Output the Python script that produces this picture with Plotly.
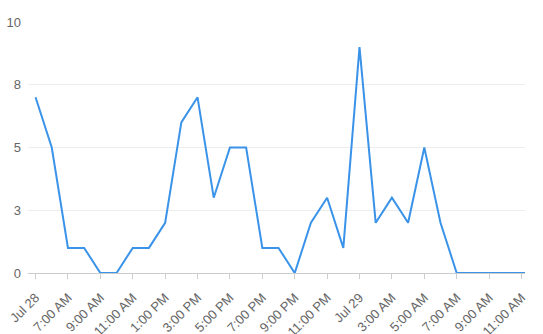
import plotly.graph_objects as go
import pandas as pd

times = pd.date_range("2024-07-28 05:00", "2024-07-29 12:00", freq="h")
values = [7, 5, 1, 1, 0, 0, 1, 1, 2, 6, 7, 3, 5, 5, 1, 1, 0, 2, 3, 1,
          9, 2, 3, 2, 5, 2, 0, 0, 0, 0, 0, 0]
tick_times = pd.date_range("2024-07-28 05:00", "2024-07-29 11:00", freq="2h")
tick_text = ["Jul 28", "7:00 AM", "9:00 AM", "11:00 AM", "1:00 PM", "3:00 PM",
             "5:00 PM", "7:00 PM", "9:00 PM", "11:00 PM", "Jul 29", "3:00 AM",
             "5:00 AM", "7:00 AM", "9:00 AM", "11:00 AM"]
y_ticks = [0, 2.5, 5, 7.5, 10]
y_text = ["0", "3", "5", "8", "10"]

fig = go.Figure(go.Scatter(
    x=times, y=values, mode="lines",
    line=dict(color="#3a93e8", width=2),
    cliponaxis=False, hoverinfo="skip"))

fig.update_layout(
    width=543, height=334,
    margin=dict(l=28, r=18, t=22, b=61),
    paper_bgcolor="white", plot_bgcolor="white",
    showlegend=False,
    font=dict(family="Liberation Sans, Arial, sans-serif", size=13, color="#666"),
)
fig.update_xaxes(
    range=[pd.Timestamp("2024-07-28 04:32"), pd.Timestamp("2024-07-29 11:13")],
    tickmode="array", tickvals=tick_times, ticktext=tick_text,
    tickangle=-45, showgrid=False, automargin=False,
    showline=True, linecolor="#ccc", linewidth=1,
    ticks="outside", ticklen=5, tickcolor="#ccc",
    ticklabelstandoff=6,
    tickfont=dict(size=13, color="#666"),
)
fig.update_yaxes(
    range=[0, 10], tickmode="array", tickvals=y_ticks, ticktext=y_text,
    showgrid=True, gridcolor="#ededed", gridwidth=1, zeroline=False,
    showline=False, ticks="", automargin=False, ticklabelstandoff=6,
    tickfont=dict(size=13, color="#666"),
)
fig.write_html("out.html")
